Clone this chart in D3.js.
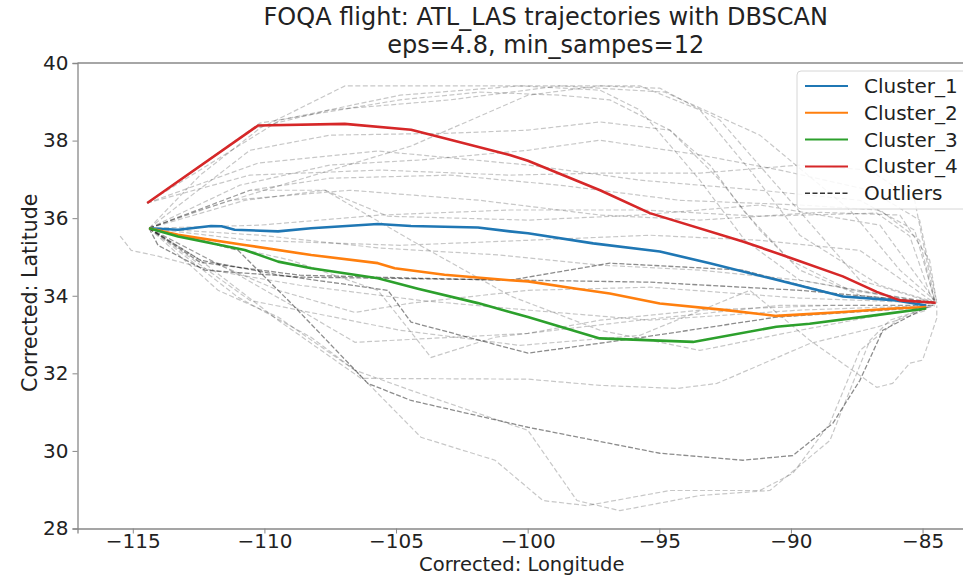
<!DOCTYPE html>
<html>
<head>
<meta charset="utf-8">
<script src="https://cdn.jsdelivr.net/npm/d3@7"></script>
<style>
  html, body { margin: 0; padding: 0; background: #fff; }
  svg { display: block; font-family: "DejaVu Sans", sans-serif; }
</style>
</head>
<body>
<svg id="chart" width="963" height="576"></svg>
<script>
// ---------- data (lon, lat) ----------
const titleLines = ["FOQA flight: ATL_LAS trajectories with DBSCAN", "eps=4.8, min_sampes=12"];
const xLabel = "Corrected: Longitude";
const yLabel = "Corrected: Latitude";
const xTicks = [-115, -110, -105, -100, -95, -90, -85];
const yTicks = [28, 30, 32, 34, 36, 38, 40];
const clusterNames = ["Cluster_1", "Cluster_2", "Cluster_3", "Cluster_4"];
const outlierName = "Outliers";

const cluster1 = [[-114.38,35.74],[-113.28,35.70],[-112.03,35.80],[-111.63,35.79],[-111.13,35.70],[-109.48,35.66],[-108.23,35.74],[-105.69,35.85],[-104.43,35.80],[-101.89,35.76],[-100.68,35.66],[-99.99,35.61],[-97.51,35.35],[-94.98,35.14],[-93.08,34.84],[-90.55,34.41],[-88.02,33.98],[-86.0,33.88],[-84.86,33.75]];
const cluster2 = [[-114.38,35.74],[-113.28,35.57],[-110.75,35.31],[-108.22,35.05],[-105.69,34.84],[-105.05,34.71],[-103.16,34.54],[-100.68,34.40],[-99.99,34.37],[-98.14,34.18],[-96.88,34.06],[-94.98,33.80],[-92.45,33.63],[-90.55,33.48],[-88.02,33.58],[-86.12,33.67],[-84.86,33.71]];
const cluster3 = [[-114.38,35.74],[-113.28,35.53],[-110.75,35.18],[-109.48,34.88],[-108.22,34.71],[-105.69,34.45],[-104.17,34.18],[-101.89,33.81],[-100.68,33.58],[-99.99,33.45],[-97.26,32.90],[-93.72,32.81],[-90.55,33.20],[-89.29,33.28],[-86.76,33.50],[-84.86,33.67]];
const cluster4 = [[-114.45,36.39],[-110.24,38.39],[-106.95,38.43],[-104.43,38.28],[-103.16,38.06],[-100.68,37.63],[-99.99,37.48],[-97.25,36.72],[-95.36,36.13],[-91.83,35.40],[-89.9,34.95],[-88.03,34.50],[-86.74,34.10],[-85.86,33.88],[-84.5,33.82]];

// outlier trajectories (light gray dashed)
const outliersLight = [
  [[-114.38,35.74],[-112.44,37.11],[-110.17,38.32],[-106.94,39.41],[-101.81,39.41],[-98.77,39.41],[-94.79,39.25],[-91.18,38.14],[-87.76,36.21],[-85.86,34.66],[-84.54,33.88]],
  [[-114.46,36.39],[-110.17,38.45],[-104.85,39.05],[-101.81,39.25],[-98.77,39.17],[-96.88,39.05],[-94.6,38.27],[-93.08,37.37],[-91.75,36.15],[-90.04,34.92],[-87.76,34.14],[-84.54,33.83]],
  [[-114.38,35.74],[-110.55,37.75],[-107.51,38.14],[-102.95,38.19],[-99.99,38.27],[-97.25,38.48],[-94.6,38.27],[-92.7,36.98],[-91.18,35.69],[-89.66,34.66],[-87.38,34.01],[-84.54,33.81]],
  [[-114.46,36.39],[-110.24,37.42],[-105.69,37.73],[-99.99,37.37],[-95.74,36.98],[-91.18,36.72],[-87.38,36.46],[-85.3,35.69],[-84.54,33.88]],
  [[-114.38,35.74],[-110.55,36.72],[-107.51,37.03],[-102.95,37.11],[-98.77,36.85],[-94.22,36.46],[-89.66,36.34],[-86.62,36.21],[-85.11,35.43],[-84.54,33.83]],
  [[-114.38,35.74],[-111.31,36.46],[-106.75,36.72],[-101.81,36.46],[-97.25,36.08],[-93.46,35.95],[-88.9,36.15],[-85.86,36.08],[-84.73,34.92],[-84.46,33.81]],
  [[-114.38,35.74],[-110.74,36.46],[-107.7,36.72],[-105.31,36.05],[-99.99,35.95],[-95.74,36.08],[-91.18,36.34],[-86.62,35.82],[-84.54,33.88]],
  [[-114.38,35.74],[-110.55,36.72],[-107.7,36.72],[-104.43,35.43],[-100.64,33.99],[-97.25,33.11],[-93.46,32.59],[-89.66,33.11],[-86.62,33.5],[-84.54,33.73]],
  [[-114.38,35.74],[-111.76,34.14],[-109.48,33.45],[-106.56,32.08],[-104.05,30.35],[-101.24,29.76],[-99.42,28.72],[-97.75,28.59],[-94.6,28.98],[-91.18,28.98],[-89.93,29.42],[-88.52,30.71],[-87.38,32.59],[-85.86,33.42],[-84.73,33.73]],
  [[-114.38,35.74],[-111.0,33.96],[-108.23,32.93],[-106.56,32.08],[-104.43,31.56],[-99.99,30.53],[-98.13,28.72],[-96.5,28.46],[-93.46,28.85],[-90.8,28.98],[-88.52,30.27],[-87.0,32.85],[-86.24,33.37],[-84.65,33.73]],
  [[-114.38,35.74],[-112.44,34.92],[-109.48,33.37],[-106.33,31.87],[-99.99,31.85],[-97.25,31.69],[-94.33,31.61],[-92.81,31.74],[-89.28,32.77],[-86.74,33.19],[-84.85,33.63]],
  [[-114.38,35.74],[-111.69,34.79],[-109.48,34.14],[-106.56,33.57],[-104.43,33.81],[-99.99,34.14],[-95.36,34.22],[-89.66,33.94],[-84.54,33.81]],
  [[-114.38,35.74],[-111.31,34.66],[-108.65,33.63],[-106.56,32.8],[-99.99,33.03],[-95.74,33.37],[-90.42,33.75],[-84.54,33.75]],
  [[-114.38,35.74],[-109.02,34.92],[-105.69,34.14],[-103.67,32.41],[-101.24,32.93],[-99.99,33.03],[-97.25,33.37],[-93.46,33.63],[-88.52,33.75],[-84.54,33.75]],
  [[-115.48,35.54],[-115.06,35.17],[-114.04,35.02],[-112.03,34.66],[-108.65,34.27],[-104.09,33.88],[-99.99,33.63],[-95.36,33.37],[-89.66,33.63],[-84.54,33.75]],
  [[-114.46,36.39],[-110.36,38.32],[-107.51,38.79],[-102.95,39.05],[-98.77,39.41],[-95.74,39.41],[-93.46,38.79],[-91.56,37.24],[-89.66,35.56],[-86.62,34.27],[-84.54,33.83]],
  [[-114.38,35.74],[-110.93,36.85],[-107.51,37.37],[-104.09,37.5],[-99.99,37.75],[-97.25,38.01],[-93.46,37.63],[-90.42,37.24],[-87.0,36.72],[-85.11,35.95],[-84.46,33.81]],
  [[-114.38,35.74],[-112.44,36.21],[-109.48,36.83],[-104.43,37.86],[-99.99,39.17],[-97.25,39.41],[-94.98,39.35],[-92.7,38.53],[-90.04,36.46],[-87.38,34.4],[-84.54,33.81]],
  [[-114.38,35.74],[-110.17,35.82],[-105.61,36.08],[-100.68,36.21],[-95.62,36.21],[-91.18,36.05],[-86.74,36.13],[-85.49,35.54],[-84.73,34.06],[-84.5,33.78]],
  [[-114.46,36.39],[-110.55,37.11],[-105.61,37.24],[-100.68,37.11],[-97.25,37.16],[-93.46,37.16],[-89.66,37.37],[-87.0,37.24],[-85.3,36.46],[-84.54,33.88]],
  [[-114.38,35.74],[-110.55,35.43],[-104.85,35.3],[-99.99,35.43],[-95.36,35.56],[-91.18,35.43],[-87.38,35.17],[-84.54,33.81]],
  [[-114.38,35.74],[-110.17,35.56],[-105.61,35.23],[-101.05,35.05],[-97.25,34.79],[-93.46,34.66],[-89.66,34.4],[-84.54,33.78]],
  [[-114.38,35.74],[-110.55,33.88],[-104.85,33.11],[-100.29,32.72],[-95.74,32.98],[-91.56,34.14],[-89.28,32.85],[-86.74,31.64],[-86.14,31.74],[-85.49,32.26],[-85.0,32.34],[-84.46,33.42],[-84.46,33.75]],
  [[-114.46,36.39],[-109.4,38.53],[-104.85,39.17],[-100.29,39.41],[-97.25,39.3],[-95.74,38.79],[-93.46,36.98],[-91.75,35.43],[-89.66,34.4],[-84.54,33.81]]
];
// outlier trajectories that appear darker (overlapping)
const outliersDark = [
  [[-114.38,35.74],[-112.44,35.43],[-111.0,35.17],[-108.99,33.81],[-106.07,31.74],[-104.43,31.3],[-99.99,30.61],[-94.98,29.94],[-91.83,29.76],[-89.93,29.88],[-88.41,30.71],[-87.38,31.82],[-86.51,33.11],[-84.85,33.7]],
  [[-114.38,35.74],[-112.44,34.92],[-109.4,34.53],[-105.31,34.14],[-104.43,33.32],[-99.99,32.52],[-95.62,32.93],[-90.54,33.45],[-84.85,33.7]],
  [[-114.38,35.74],[-114.04,35.3],[-112.26,34.66],[-108.65,34.48],[-99.99,34.4],[-95.36,34.35],[-89.66,34.14],[-84.54,33.83]],
  [[-114.38,35.74],[-112.44,34.86],[-108.65,34.53],[-104.09,34.45],[-100.68,34.4],[-96.88,34.84],[-91.83,34.66],[-88.03,33.99],[-84.54,33.81]]
];

const clusterSeries = [cluster1, cluster2, cluster3, cluster4];
const clusterColors = ["#1f77b4", "#ff7f0e", "#2ca02c", "#d62728"];

// ---------- layout ----------
const svg = d3.select("#chart");
const plot = { left: 77.5, right: 966, top: 63, bottom: 528.5 };
const x = d3.scaleLinear().domain([-117.1, -83.35]).range([plot.left, plot.right]);
const y = d3.scaleLinear().domain([28, 40]).range([plot.bottom, plot.top]);

svg.append("defs").append("clipPath").attr("id", "clip")
  .append("rect").attr("x", plot.left).attr("y", plot.top)
  .attr("width", plot.right - plot.left).attr("height", plot.bottom - plot.top);

const line = d3.line().x(d => x(d[0])).y(d => y(d[1]));
const g = svg.append("g").attr("clip-path", "url(#clip)");

g.selectAll("path.outL").data(outliersLight).join("path")
  .attr("class", "outL").attr("d", line).attr("fill", "none")
  .attr("stroke", "#000").attr("stroke-opacity", 0.22).attr("stroke-width", 1.2)
  .attr("stroke-dasharray", "5,2.5");
g.selectAll("path.outD").data(outliersDark).join("path")
  .attr("class", "outD").attr("d", line).attr("fill", "none")
  .attr("stroke", "#000").attr("stroke-opacity", 0.45).attr("stroke-width", 1.3)
  .attr("stroke-dasharray", "5,2");

g.selectAll("path.cl").data(clusterSeries).join("path")
  .attr("class", "cl").attr("d", line).attr("fill", "none")
  .attr("stroke", (d, i) => clusterColors[i]).attr("stroke-width", 2.6)
  .attr("stroke-linejoin", "round");

// ---------- axes ----------
const axisColor = "#888";
const xAxis = svg.append("g").attr("transform", `translate(0,${plot.bottom})`)
  .call(d3.axisBottom(x).tickValues(xTicks).tickSize(5).tickPadding(0)
    .tickFormat(d => d3.format("d")(d).replace("-", "\u2212")));
const yAxis = svg.append("g").attr("transform", `translate(${plot.left},0)`)
  .call(d3.axisLeft(y).tickValues(yTicks).tickSize(5).tickPadding(4).tickFormat(d3.format("d")));
[xAxis, yAxis].forEach(a => {
  a.select(".domain").attr("stroke", axisColor).attr("stroke-width", 1.3);
  a.selectAll(".tick line").attr("stroke", axisColor);
  a.selectAll(".tick text").attr("fill", "#222").style("font-size", "20px")
    .style("font-family", "DejaVu Sans, sans-serif");
});
// top spine
svg.append("line").attr("x1", plot.left).attr("x2", plot.right)
  .attr("y1", plot.top).attr("y2", plot.top)
  .attr("stroke", axisColor).attr("stroke-width", 1.3);
// right spine
svg.append("line").attr("x1", plot.right).attr("x2", plot.right)
  .attr("y1", plot.top).attr("y2", plot.bottom)
  .attr("stroke", axisColor).attr("stroke-width", 1.3);

// labels
svg.append("text").attr("x", (plot.left + plot.right) / 2).attr("y", 571)
  .attr("text-anchor", "middle").attr("fill", "#222").style("font-size", "19.5px").text(xLabel);
svg.append("text").attr("transform", `translate(37,${(plot.top + plot.bottom) / 2 - 3}) rotate(-90)`)
  .attr("text-anchor", "middle").attr("fill", "#222").style("font-size", "20.5px").text(yLabel);

// title
svg.selectAll("text.title").data(titleLines).join("text").attr("class", "title")
  .attr("x", (plot.left + plot.right) / 2 + 24).attr("y", (d, i) => 25 + i * 28)
  .attr("text-anchor", "middle").attr("fill", "#222").style("font-size", "24px").text(d => d);

// ---------- legend ----------
const legendItems = clusterNames.map((n, i) => ({ name: n, color: clusterColors[i], dash: null }))
  .concat([{ name: outlierName, color: "#333", dash: "5,2.5" }]);
const lg = svg.append("g");
lg.append("rect").attr("x", 797).attr("y", 71).attr("width", 190).attr("height", 138)
  .attr("rx", 4).attr("fill", "#fff").attr("fill-opacity", 0.85)
  .attr("stroke", "#d6d6d6").attr("stroke-width", 1);
const rows = lg.selectAll("g.row").data(legendItems).join("g").attr("class", "row")
  .attr("transform", (d, i) => `translate(0,${86 + i * 26.8})`);
rows.append("line").attr("x1", 805).attr("x2", 848).attr("y1", 0).attr("y2", 0)
  .attr("stroke", d => d.color).attr("stroke-width", d => d.dash ? 1.6 : 2)
  .attr("stroke-dasharray", d => d.dash);
rows.append("text").attr("x", 864).attr("y", 7).attr("fill", "#222")
  .style("font-size", "20px").text(d => d.name);
</script>
</body>
</html>
